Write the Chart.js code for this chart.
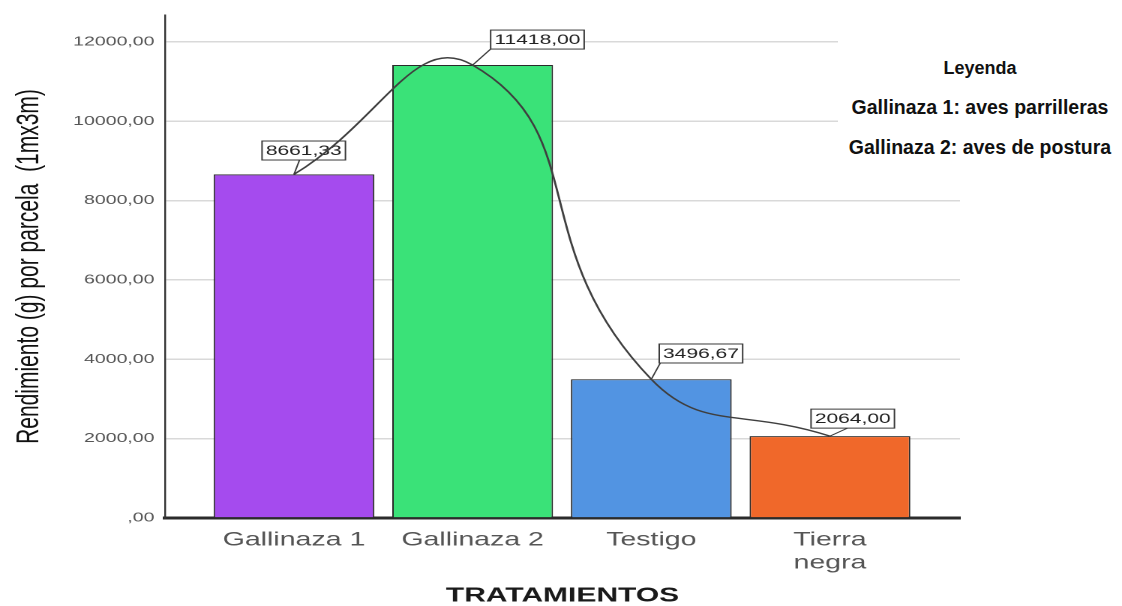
<!DOCTYPE html>
<html>
<head>
<meta charset="utf-8">
<title>Rendimiento por tratamiento</title>
<script src="https://cdn.jsdelivr.net/npm/chart.js@4.4.1/dist/chart.umd.min.js"></script>
<style>
  html, body { margin: 0; padding: 0; background: #fff; }
  #wrap { position: relative; width: 1122px; height: 606px; overflow: hidden; background: #fff; }
  /* the chart is drawn narrow and widened 1.5x, giving its wide lettering */
  #chartBox { position: absolute; left: 0; top: 0; width: 653px; height: 606px;
              transform: scaleX(1.5); transform-origin: 0 0; }
  #leyenda { position: absolute; left: 838px; top: 36px; width: 284px; height: 138px;
             background: #fff; color: #111; text-align: center;
             font-family: "Liberation Sans", Arial, sans-serif; font-weight: bold; }
  #leyenda div { position: absolute; left: 0; right: 0; white-space: nowrap; }
</style>
</head>
<body>
<div id="wrap">
  <div id="chartBox"><canvas id="c" width="653" height="606"></canvas></div>
  <div id="leyenda">
    <div style="top:23px;font-size:18px;line-height:18px;">Leyenda</div>
    <div style="top:60px;font-size:19.5px;line-height:22px;">Gallinaza 1: aves parrilleras</div>
    <div style="top:100px;font-size:19.5px;line-height:22px;">Gallinaza 2: aves de postura</div>
  </div>
</div>
<script>
// Treatments and their yield (g per 1m x 3m plot)
const categories = ['Gallinaza 1', 'Gallinaza 2', 'Testigo', ['Tierra', 'negra']];
const rendimiento = [8661.33, 11418.00, 3496.67, 2064.00];
const barColors = ['#a54bee', '#3ae278', '#5294e2', '#f0682a'];
const yTicks = [0, 2000, 4000, 6000, 8000, 10000, 12000];
const yMax = 12680;

// where each value box sits relative to its bar top: dx, dy, leader end inside box
const labelOffsets = [
  { dx: -21.3, dy: 14.4, lead: 25 },
  { dx: 12.0, dy: 16.0, lead: 0 },
  { dx: 5.3, dy: 16.3, lead: 0.7 },
  { dx: -12.6, dy: 8.0, lead: 24.3 }
];

const FONT = '"Liberation Sans", Arial, sans-serif';
const fmt = v => (v === 0 ? ',00' : v.toFixed(2).replace('.', ','));
const points = rendimiento.map((v, i) => ({ x: i, y: v }));

// value boxes drawn after the bars, under the interpolation line
const valueBoxes = {
  id: 'valueBoxes',
  afterDatasetDraw(chart, args) {
    if (args.index !== 0) return;
    const ctx = chart.ctx;
    ctx.save();
    ctx.font = '14px ' + FONT;
    ctx.textBaseline = 'middle';
    ctx.textAlign = 'left';
    args.meta.data.forEach((el, i) => {
      const txt = fmt(rendimiento[i]);
      const o = labelOffsets[i];
      const w = ctx.measureText(txt).width + 5;
      const h = 19;
      const left = el.x + o.dx;
      const bottom = el.y - o.dy;
      ctx.strokeStyle = '#3a3a3a';
      ctx.lineWidth = 1;
      ctx.beginPath();
      ctx.moveTo(el.x, el.y);
      ctx.lineTo(left + o.lead, bottom);
      ctx.stroke();
      ctx.fillStyle = '#fff';
      ctx.fillRect(left, bottom - h, w, h);
      ctx.strokeRect(left, bottom - h, w, h);
      ctx.fillStyle = '#222';
      ctx.fillText(txt, left + 2.5, bottom - h / 2 + 0.5);
    });
    ctx.restore();
  }
};

new Chart(document.getElementById('c'), {
  data: {
    datasets: [
      {
        type: 'bar',
        data: points,
        backgroundColor: barColors,
        borderColor: '#2a2a2a',
        borderWidth: 1,
        barPercentage: 0.9,
        categoryPercentage: 1,
        order: 2
      },
      {
        type: 'line',
        data: points,
        borderColor: '#3f3f3f',
        borderWidth: 1.4,
        tension: 0.5,
        pointRadius: 0,
        fill: false,
        order: 1
      }
    ]
  },
  options: {
    responsive: false,
    devicePixelRatio: 2,
    animation: false,
    layout: { padding: { top: 15, right: 0, left: 0, bottom: 0 } },
    plugins: {
      legend: { display: false },
      tooltip: { enabled: false }
    },
    scales: {
      x: {
        type: 'linear',
        offset: false,
        min: -0.722,
        max: 3.728,
        afterBuildTicks: s => { s.ticks = categories.map((c, i) => ({ value: i })); },
        afterFit: s => { s.height = 88; s.paddingRight = 13; },
        grid: { display: false, drawTicks: false, offset: false },
        border: { display: true, color: '#2b2b2b', width: 3 },
        ticks: {
          autoSkip: false,
          maxRotation: 0,
          padding: 11,
          color: '#555',
          font: { family: FONT, size: 19 },
          callback: v => categories[v]
        },
        title: {
          display: true,
          text: 'TRATAMIENTOS',
          color: '#1a1a1a',
          font: { family: FONT, size: 20, weight: 'bold', lineHeight: 1 },
          padding: { top: 0, bottom: 0 }
        }
      },
      y: {
        type: 'linear',
        min: 0,
        max: yMax,
        afterBuildTicks: s => { s.ticks = yTicks.map(v => ({ value: v })); },
        afterFit: s => { s.width = 110; },
        grid: { color: '#d9d9d9', lineWidth: 1.5, drawTicks: false },
        border: { display: true, color: '#333', width: 1.2 },
        ticks: {
          padding: 7,
          color: '#555',
          font: { family: FONT, size: 13 },
          callback: v => fmt(v)
        },
        title: {
          display: true,
          text: 'Rendimiento (g) por parcela  (1mx3m)',
          color: '#111',
          font: { family: FONT, size: 21 },
          padding: { top: 7, bottom: 0 }
        }
      }
    }
  },
  plugins: [valueBoxes]
});
</script>
</body>
</html>
